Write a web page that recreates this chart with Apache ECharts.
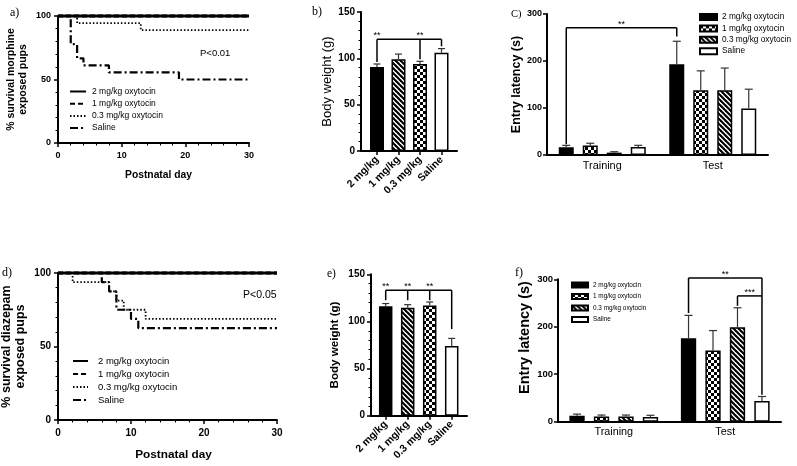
<!DOCTYPE html>
<html><head><meta charset="utf-8">
<script src="https://cdn.jsdelivr.net/npm/echarts@6/dist/echarts.min.js"></script>
<style>html,body{margin:0;padding:0;background:#fff}#c{width:797px;height:466px}</style>
</head><body><div id="c"></div>
<script>
// ================= DATA =================
const groupNames = ['2 mg/kg oxytocin', '1 mg/kg oxytocin', '0.3 mg/kg oxytocin', 'Saline'];
const doseCats = ['2 mg/kg', '1 mg/kg', '0.3 mg/kg', 'Saline'];
const phaseCats = ['Training', 'Test'];

// survival (postnatal day, % survival) - morphine exposed pups
const morphine2mg = [[0, 100], [30, 100]];
const morphine1mg = [[0, 100], [30, 100]];
const morphine03mg = [[0, 100], [3, 94.4], [13, 88.9], [30, 88.9]];
const morphineSaline = [[0, 100], [2, 77.8], [3, 66.7], [4, 61.1], [8, 55.6], [19, 50], [30, 50]];
// survival - diazepam exposed pups
const diazepam2mg = [[0, 100], [30, 100]];
const diazepam1mg = [[0, 100], [30, 100]];
const diazepam03mg = [[0, 100], [2, 93.75], [7, 87.5], [8, 81.25], [9, 75], [12, 68.75], [30, 68.75]];
const diazepamSaline = [[0, 100], [6, 93.75], [7, 87.5], [8, 75], [10, 68.75], [11, 62.5], [30, 62.5]];

// body weight (g), order of doseCats
const weightMorphineMean = [90.6, 98.9, 93.9, 106];
const weightMorphineErr = [3.3, 5.7, 2.9, 4.5];
const weightDiazepamMean = [116, 114.6, 117, 74];
const weightDiazepamErr = [3, 3.2, 3.6, 8];

// entry latency (s): per group [Training, Test]
const latMorphineMean = [[16.5, 193], [20, 138], [5, 138], [17, 99]];
const latMorphineErr = [[4, 49], [5, 41], [2, 47], [3.6, 41]];
const latDiazepamMean = [[12.6, 176], [11, 150], [11, 199], [10, 43.6]];
const latDiazepamErr = [[3.4, 48], [3, 42], [3, 41], [3.5, 9.5]];

// significance brackets: position = [category, barIndex] (barIndex -1 = single bar)
const bracketsWeightMorphine = [
  { from: [0, -1], to: [3, -1], level: 120.5, drops: [[[0, -1], 96], [[2, -1], 99], [[3, -1], 113]], stars: [[[0, -1], '**'], [[2, -1], '**']] }
];
const bracketsWeightDiazepam = [
  { from: [0, -1], to: [3, -1], level: 133, drops: [[[0, -1], 122.5], [[1, -1], 122.5], [[2, -1], 122.5], [[3, -1], 92]], stars: [[[0, -1], '**'], [[1, -1], '**'], [[2, -1], '**']] }
];
const bracketsLatMorphine = [
  { from: [0, 0], to: [1, 0], level: 271, drops: [[[0, 0], 23], [[1, 0], 252]], stars: [['mid', '**']] }
];
const bracketsLatDiazepam = [
  { from: [1, 0], to: [1, 3], level: 303, drops: [[[1, 0], 229], [[1, 3], 57]], stars: [['mid', '**']] },
  { from: [1, 2], to: [1, 3], level: 265, drops: [[[1, 2], 244]], stars: [['mid', '***']] }
];

// ================= STYLE HELPERS =================
const FONT = '"Liberation Sans", Arial, sans-serif';
function stripePattern() {
  const p = 5, c = document.createElement('canvas');
  c.width = p; c.height = p;
  const g = c.getContext('2d');
  g.fillStyle = '#fff'; g.fillRect(0, 0, p, p);
  g.strokeStyle = '#000'; g.lineWidth = 2.1;
  [-p, 0, p].forEach(k => { g.beginPath(); g.moveTo(-1, -1 + k); g.lineTo(p + 1, p + 1 + k); g.stroke(); });
  return { image: c, repeat: 'repeat' };
}
function checkerPattern() {
  const s = 3, c = document.createElement('canvas');
  c.width = 2 * s; c.height = 2 * s;
  const g = c.getContext('2d');
  g.fillStyle = '#fff'; g.fillRect(0, 0, 2 * s, 2 * s);
  g.fillStyle = '#000'; g.fillRect(0, 0, s, s); g.fillRect(s, s, s, s);
  return { image: c, repeat: 'repeat' };
}
const FILL_BLACK = '#000', FILL_WHITE = '#fff';
const FILL_STRIPE = stripePattern(), FILL_CHECK = checkerPattern();
const weightFills = [FILL_BLACK, FILL_STRIPE, FILL_CHECK, FILL_WHITE];
const latFills = [FILL_BLACK, FILL_CHECK, FILL_STRIPE, FILL_WHITE];
const lineTypes = [
  { width: 3, type: 'solid' },
  { width: 3, type: [5, 3] },
  { width: 1.8, type: [1.5, 2] },
  { width: 2.2, type: [8, 3, 2, 3] }
];

function offsetOf(idx, n, bw, gap) { return idx < 0 ? 0 : (idx - (n - 1) / 2) * bw * (1 + gap); }

function errRender(n, bw, gap, cap) {
  return function (params, api) {
    const cat = api.value(0), mean = api.value(1), err = api.value(2), idx = api.value(3);
    const off = offsetOf(idx, n, bw, gap);
    const top = api.coord([cat, mean + err]), base = api.coord([cat, mean]);
    const x = top[0] + off;
    const st = { stroke: '#333', lineWidth: 1.2 };
    return { type: 'group', children: [
      { type: 'line', shape: { x1: x, y1: base[1], x2: x, y2: top[1] }, style: st },
      { type: 'line', shape: { x1: x - cap / 2, y1: top[1], x2: x + cap / 2, y2: top[1] }, style: st }
    ] };
  };
}
function bracketRender(list, n, bw, gap, starFont) {
  return function (params, api) {
    const b = list[params.dataIndex];
    const pt = (pos, v) => { const p = api.coord([pos[0], v]); return [p[0] + offsetOf(pos[1], n, bw, gap), p[1]]; };
    const st = { stroke: '#000', lineWidth: 1.5 };
    const a = pt(b.from, b.level), c = pt(b.to, b.level);
    const ch = [{ type: 'line', shape: { x1: a[0], y1: a[1], x2: c[0], y2: c[1] }, style: st }];
    b.drops.forEach(d => {
      const t = pt(d[0], b.level), e = pt(d[0], d[1]);
      ch.push({ type: 'line', shape: { x1: t[0], y1: t[1], x2: e[0], y2: e[1] }, style: st });
    });
    b.stars.forEach(s => {
      const p = s[0] === 'mid' ? [(a[0] + c[0]) / 2, a[1]] : pt(s[0], b.level);
      ch.push({ type: 'text', style: { text: s[1], x: p[0], y: p[1] + 1, align: 'center', verticalAlign: 'bottom', font: starFont + 'px ' + FONT, fill: '#000' } });
    });
    return { type: 'group', children: ch };
  };
}

// ================= LAYOUT =================
const grids = [
  { left: 58, top: 16, width: 191, height: 127 },      // 0 a
  { left: 58, top: 273, width: 219, height: 147 },     // 1 d
  { left: 361, top: 12, width: 96, height: 139 },      // 2 b frame
  { left: 366.25, top: 12, width: 86, height: 139 },   // 3 b data
  { left: 371, top: 274.3, width: 96, height: 141.4 }, // 4 e frame
  { left: 374.7, top: 274.3, width: 88, height: 141.4 },// 5 e data
  { left: 547, top: 14, width: 221, height: 141 },     // 6 c
  { left: 558, top: 279.3, width: 223, height: 142.4 } // 7 f
].map(g => Object.assign({ containLabel: false, outerBoundsMode: 'none' }, g));

const blackLine = w => ({ show: true, lineStyle: { color: '#000', width: w } });
function survX(gi, fs, gap, lfs, padLeft) {
  return { type: 'value', gridIndex: gi, min: 0, max: 30, interval: 10,
    axisLine: blackLine(2), axisTick: { show: true, length: 4, lineStyle: { color: '#000', width: 1.5 } },
    minorTick: { show: true, splitNumber: 5, length: 2.5, lineStyle: { color: '#000', width: 1 } },
    splitLine: { show: false }, minorSplitLine: { show: false },
    axisLabel: { fontFamily: FONT, fontWeight: 'bold', fontSize: lfs, color: '#000', margin: 8 },
    name: 'Postnatal day', nameLocation: 'middle', nameGap: gap,
    nameTextStyle: { fontFamily: FONT, fontWeight: 'bold', fontSize: fs, color: '#000', padding: [0, 0, 0, padLeft] } };
}
function survY(gi, name, fs, gap, lfs, lh) {
  return { type: 'value', gridIndex: gi, min: 0, max: 100, interval: 50,
    axisLine: blackLine(2), axisTick: { show: true, length: 4, lineStyle: { color: '#000', width: 1.5 } },
    minorTick: { show: true, splitNumber: 5, length: 2.5, lineStyle: { color: '#000', width: 1 } },
    splitLine: { show: false }, minorSplitLine: { show: false },
    axisLabel: { fontFamily: FONT, fontWeight: 'bold', fontSize: lfs, color: '#000', margin: 7 },
    name: name, nameLocation: 'middle', nameRotate: 90, nameGap: gap,
    nameTextStyle: { fontFamily: FONT, fontWeight: 'bold', fontSize: fs, lineHeight: lh, color: '#000', align: 'center' } };
}
function frameX(gi) {
  return { type: 'value', gridIndex: gi, min: 0, max: 1, axisLine: blackLine(2),
    axisTick: { show: false }, axisLabel: { show: false }, splitLine: { show: false } };
}
function weightY(gi, bold, fs, gap) {
  return { type: 'value', gridIndex: gi, min: 0, max: 150, interval: 50,
    axisLine: blackLine(2), axisTick: { show: true, length: 4, lineStyle: { color: '#000', width: 1.5 } },
    minorTick: { show: true, splitNumber: 5, length: 2.5, lineStyle: { color: '#000', width: 1 } },
    splitLine: { show: false }, minorSplitLine: { show: false },
    axisLabel: { fontFamily: FONT, fontWeight: 'bold', fontSize: 10, color: '#000', margin: 6 },
    name: 'Body weight (g)', nameLocation: 'middle', nameRotate: 90, nameGap: gap,
    nameTextStyle: { fontFamily: FONT, fontWeight: bold ? 'bold' : 'normal', fontSize: fs, color: '#000' } };
}
function doseX(gi) {
  return { type: 'category', gridIndex: gi, data: doseCats, axisLine: { show: false },
    axisTick: { show: true, alignWithLabel: true, length: 4, lineStyle: { color: '#000', width: 1.5 } },
    axisLabel: { interval: 0, rotate: 45, margin: 7, fontFamily: FONT, fontWeight: 'bold', fontSize: 10.5, color: '#000' } };
}
function hiddenY(gi, max) { return { type: 'value', gridIndex: gi, min: 0, max: max, show: false }; }
function phaseX(gi, fs, margin) {
  return { type: 'category', gridIndex: gi, data: phaseCats, axisLine: blackLine(2), axisTick: { show: false },
    axisLabel: { fontFamily: FONT, fontSize: fs, color: '#000', margin: margin } };
}
function latY(gi, fs, gap, lfs, pad) {
  return { type: 'value', gridIndex: gi, min: 0, max: 300, interval: 100,
    axisLine: blackLine(2), axisTick: { show: true, length: 4, lineStyle: { color: '#000', width: 1.5 } },
    splitLine: { show: false },
    axisLabel: { fontFamily: FONT, fontWeight: 'bold', fontSize: lfs, color: '#000', margin: 5 },
    name: 'Entry latency (s)', nameLocation: 'middle', nameRotate: 90, nameGap: gap,
    nameTextStyle: { fontFamily: FONT, fontWeight: 'bold', fontSize: fs, color: '#000', padding: pad } };
}

const xAxis = [
  survX(0, 10.3, 27, 9, 10), survX(1, 11.8, 29, 10, 12),
  frameX(2), doseX(3), frameX(4), doseX(5),
  phaseX(6, 10.9, 5), phaseX(7, 10.8, 5)
];
const yAxis = [
  survY(0, '% survival morphine\nexposed pups', 10.5, 29, 9, 12),
  survY(1, '% survival diazepam\nexposed pups', 12.5, 31, 10, 13.5),
  weightY(2, false, 13, 26), hiddenY(3, 150),
  weightY(4, true, 11.6, 30), hiddenY(5, 150),
  latY(6, 12.5, 24, 9, 0), latY(7, 14.5, 26, 9.5, [0, 0, 0, 26])
];

// ================= SERIES =================
const series = [];
const survSets = [
  ['a', 0, [morphine2mg, morphine1mg, morphine03mg, morphineSaline]],
  ['d', 1, [diazepam2mg, diazepam1mg, diazepam03mg, diazepamSaline]]
];
survSets.forEach(([tag, gi, sets]) => {
  sets.forEach((d, i) => {
    series.push({ type: 'line', name: tag + '|' + groupNames[i], xAxisIndex: gi, yAxisIndex: gi, data: d,
      step: 'end', symbol: 'none', showSymbol: false, legendIcon: 'none', clip: false, color: '#000', z: 10 - i,
      lineStyle: Object.assign({ color: '#000' }, lineTypes[i]) });
  });
});

// body weight panels
[[3, weightMorphineMean, weightMorphineErr, bracketsWeightMorphine, 14],
 [5, weightDiazepamMean, weightDiazepamErr, bracketsWeightDiazepam, 13.5]].forEach(([gi, mean, err, br, bw]) => {
  series.push({ type: 'bar', xAxisIndex: gi, yAxisIndex: gi, barWidth: bw,
    data: mean.map((v, i) => ({ value: v, itemStyle: { color: weightFills[i] } })),
    itemStyle: { borderColor: '#000', borderWidth: 1.5 } });
  series.push({ type: 'custom', xAxisIndex: gi, yAxisIndex: gi, z: 5,
    renderItem: errRender(1, bw, 0, 7),
    data: mean.map((v, i) => [i, v, err[i], -1]) });
  series.push({ type: 'custom', xAxisIndex: gi, yAxisIndex: gi, z: 6,
    renderItem: bracketRender(br, 1, bw, 0, 9),
    data: br.map(b => [b.from[0], b.level]) });
});

// latency panels
[['c', 6, latMorphineMean, latMorphineErr, bracketsLatMorphine, 15],
 ['f', 7, latDiazepamMean, latDiazepamErr, bracketsLatDiazepam, 15.3]].forEach(([tag, gi, mean, err, br, bw]) => {
  const gap = 0.6;
  mean.forEach((vals, i) => {
    series.push({ type: 'bar', name: tag + '|' + groupNames[i], xAxisIndex: gi, yAxisIndex: gi,
      barWidth: bw, barGap: '60%', data: vals, color: latFills[i],
      itemStyle: { color: latFills[i], borderColor: '#000', borderWidth: 1.5 } });
  });
  const eb = [];
  mean.forEach((vals, i) => vals.forEach((v, c) => eb.push([c, v, err[i][c], i])));
  series.push({ type: 'custom', xAxisIndex: gi, yAxisIndex: gi, z: 5,
    renderItem: errRender(4, bw, gap, 8), data: eb });
  series.push({ type: 'custom', xAxisIndex: gi, yAxisIndex: gi, z: 6,
    renderItem: bracketRender(br, 4, bw, gap, 9),
    data: br.map(b => [b.from[0], b.level]) });
});

const strip = n => n.split('|')[1];
const lineLegendItems = tag => groupNames.map(n => ({ name: tag + '|' + n, itemStyle: { opacity: 0, borderWidth: 0 } }));
const legend = [
  { data: lineLegendItems('a'), left: 69, top: 87, orient: 'vertical', padding: 0,
    itemWidth: 16, itemHeight: 8, itemGap: 3.2, formatter: strip, selectedMode: false,
    itemStyle: { opacity: 0 }, lineStyle: { opacity: 1 },
    textStyle: { fontFamily: FONT, fontSize: 8.5, color: '#000', padding: [0, 0, 0, 1] } },
  { data: lineLegendItems('d'), left: 72, top: 356, orient: 'vertical', padding: 0,
    itemWidth: 15, itemHeight: 9, itemGap: 3, formatter: strip, selectedMode: false,
    itemStyle: { opacity: 0 }, lineStyle: { opacity: 1 },
    textStyle: { fontFamily: FONT, fontSize: 9.5, color: '#000', padding: [0, 0, 0, 5] } },
  { data: groupNames.map(n => 'c|' + n), left: 699, top: 13, orient: 'vertical', padding: 0, icon: 'rect',
    itemWidth: 17, itemHeight: 6, itemGap: 3.4, formatter: strip, selectedMode: false,
    textStyle: { fontFamily: FONT, fontSize: 8.3, color: '#000' } },
  { data: groupNames.map(n => 'f|' + n), left: 571, top: 281.5, orient: 'vertical', padding: 0, icon: 'rect',
    itemWidth: 16, itemHeight: 5, itemGap: 4.5, formatter: strip, selectedMode: false,
    textStyle: { fontFamily: FONT, fontSize: 6.4, color: '#000' } }
];

const serif = '"Liberation Serif", "Times New Roman", serif';
const txt = (x, y, t, font) => ({ type: 'text', x: x, y: y, style: { text: t, font: font, fill: '#000' } });
const graphic = [
  txt(10, 7, 'a)', '12px ' + serif),
  txt(312, 6, 'b)', '12px ' + serif),
  txt(511, 9, 'C)', '10.5px ' + serif),
  txt(2, 267, 'd)', '12px ' + serif),
  txt(327, 268, 'e)', '11.5px ' + serif),
  txt(515, 267, 'f)', '12px ' + serif),
  txt(200, 48, 'P<0.01', '9.5px ' + FONT),
  txt(243, 290, 'P<0.05', '10.5px ' + FONT)
];

const chart = echarts.init(document.getElementById('c'), null, { renderer: 'canvas' });
chart.setOption({
  animation: false,
  backgroundColor: '#fff',
  textStyle: { fontFamily: FONT },
  grid: grids, xAxis: xAxis, yAxis: yAxis, series: series, legend: legend, graphic: graphic
});
</script></body></html>
